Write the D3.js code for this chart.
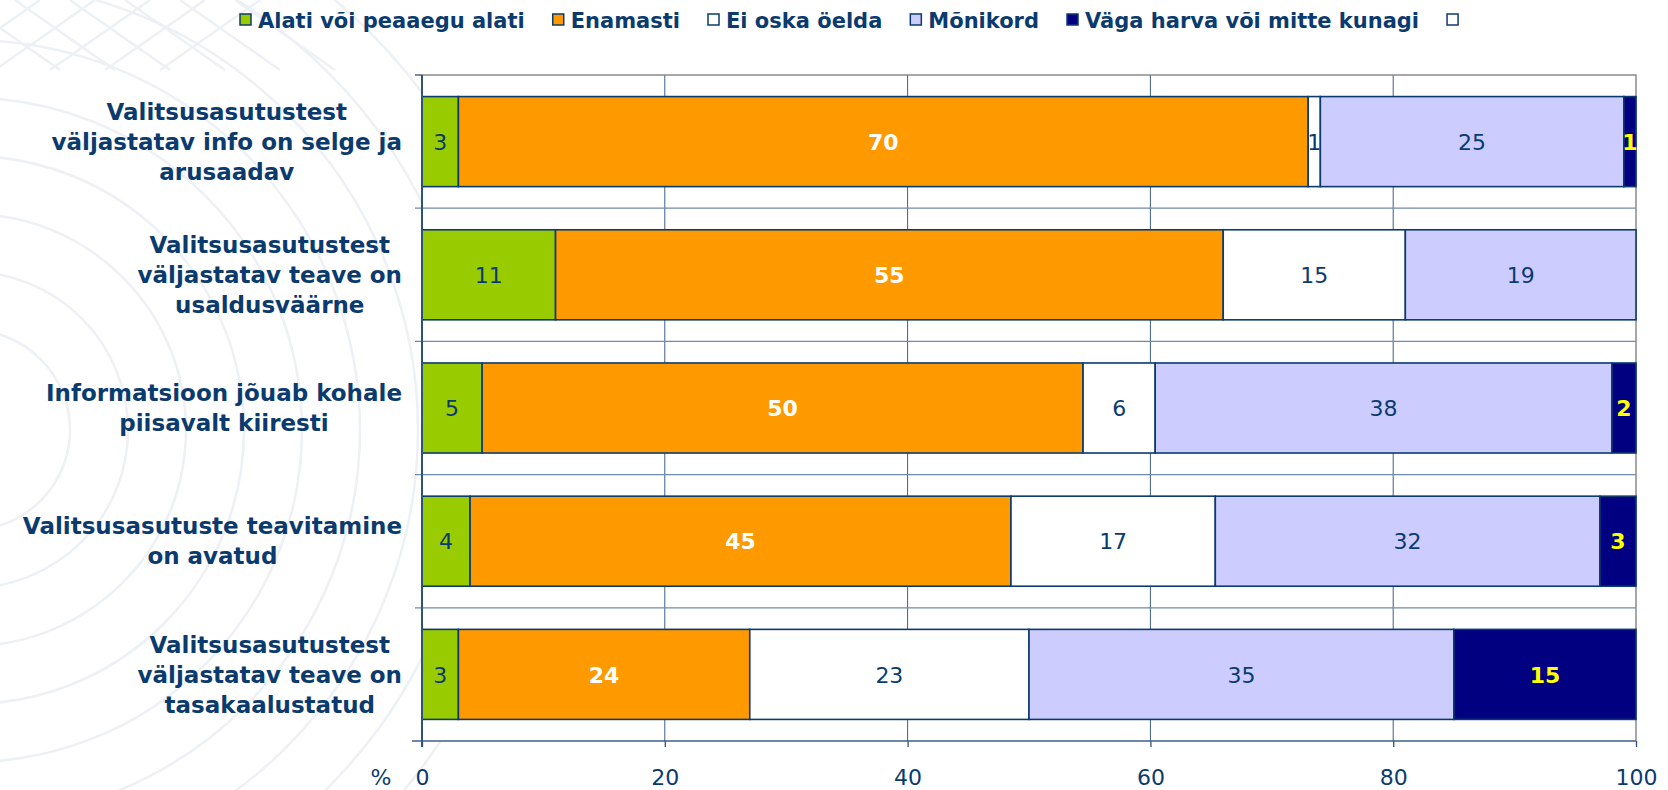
<!DOCTYPE html>
<html>
<head>
<meta charset="utf-8">
<script src="https://cdn.jsdelivr.net/npm/d3@7"></script>
<style>
  body { margin: 0; background: #ffffff; }
  svg  { display: block; }
</style>
</head>
<body>
<svg id="chart" width="1668" height="790"></svg>
<script>
// category labels, one entry per line of the wrapped label
const categories = [
    ["Valitsusasutustest", "väljastatav info on selge ja", "arusaadav"],
    ["Valitsusasutustest", "väljastatav teave on", "usaldusväärne"],
    ["Informatsioon jõuab kohale", "piisavalt kiiresti"],
    ["Valitsusasutuste teavitamine", "on avatud"],
    ["Valitsusasutustest", "väljastatav teave on", "tasakaalustatud"]
];

const seriesNames = ["Alati või peaaegu alati", "Enamasti", "Ei oska öelda", "Mõnikord", "Väga harva või mitte kunagi", ""];

const alati     = [3, 11, 5, 4, 3];
const enamasti  = [70, 55, 50, 45, 24];
const eiOska    = [1, 15, 6, 17, 23];
const monikord  = [25, 19, 38, 32, 35];
const vagaHarva = [1, 0, 2, 3, 15];
const tyhi      = [0, 0, 0, 0, 0];

const xTicks = [0, 20, 40, 60, 80, 100];

const seriesFill  = ["#99cc00", "#ff9900", "#ffffff", "#ccccff", "#000080", "#ffffff"];
const labelColor  = ["#0b3b6e", "#ffffff", "#0b3b6e", "#0b3b6e", "#ffff00", "#0b3b6e"];
const labelWeight = ["normal", "bold", "normal", "normal", "bold", "normal"];

const textColor = "#0b3b6e";

const svg = d3.select("#chart");

const margin = { top: 75, left: 422, right: 1636, bottom: 741 };

// faint background watermark (concentric arcs)
const wm = svg.append("g").attr("fill", "none").attr("stroke", "#edf0f4").attr("stroke-width", 2.5);
d3.range(100, 620, 58).forEach(r =>
{
    wm.append("circle").attr("cx", -30).attr("cy", 430).attr("r", r);
});
d3.range(0, 6).forEach(i =>
{
    wm.append("line")
        .attr("x1", -40 + i * 55).attr("y1", 0)
        .attr("x2", 60 + i * 55).attr("y2", 70);
    wm.append("line")
        .attr("x1", 260 - i * 55).attr("y1", 0)
        .attr("x2", 160 - i * 55).attr("y2", 70);
});

// build the table used by d3.stack
const keys = ["s0", "s1", "s2", "s3", "s4", "s5"];
const columns = [alati, enamasti, eiOska, monikord, vagaHarva, tyhi];
const table = categories.map((c, i) =>
{
    const row = { idx: i };
    keys.forEach((k, j) => row[k] = columns[j][i]);
    return row;
});

const stacked = d3.stack().keys(keys).offset(d3.stackOffsetExpand)(table);

const x = d3.scaleLinear()
    .domain([0, 100])
    .range([margin.left, margin.right]);

const y = d3.scaleBand()
    .domain(d3.range(categories.length))
    .range([margin.top, margin.bottom])
    .paddingInner(0.324)
    .paddingOuter(0.162);

const step = y.step();

// plot area
svg.append("rect")
    .attr("x", margin.left).attr("y", margin.top)
    .attr("width", margin.right - margin.left)
    .attr("height", margin.bottom - margin.top)
    .attr("fill", "#ffffff");

// vertical gridlines
svg.append("g")
    .selectAll("line").data(xTicks.slice(1, -1))
    .enter().append("line")
    .attr("x1", d => x(d)).attr("x2", d => x(d))
    .attr("y1", margin.top).attr("y2", margin.bottom)
    .attr("stroke", "#3d5f86").attr("stroke-width", 1);

// category separator lines
const sepY = d3.range(1, categories.length).map(i => margin.top + i * step);
svg.append("g")
    .selectAll("line").data(sepY)
    .enter().append("line")
    .attr("x1", margin.left - 7).attr("x2", margin.right)
    .attr("y1", d => d).attr("y2", d => d)
    .attr("stroke", "#6f8bab").attr("stroke-width", 1.3);

// top and right border
svg.append("path")
    .attr("d", `M${margin.left},${margin.top}H${margin.right}V${margin.bottom}`)
    .attr("fill", "none").attr("stroke", "#8a8a8a").attr("stroke-width", 1.5);

// bars
const layers = svg.append("g").selectAll("g").data(stacked)
    .enter().append("g")
    .attr("fill", (d, i) => seriesFill[i]);

layers.selectAll("rect").data(d => d.filter(p => p[1] - p[0] > 0))
    .enter().append("rect")
    .attr("x", d => x(d[0] * 100))
    .attr("width", d => x(d[1] * 100) - x(d[0] * 100))
    .attr("y", d => y(d.data.idx))
    .attr("height", y.bandwidth())
    .attr("stroke", "#0b3b6e").attr("stroke-width", 1.6);

// value labels
stacked.forEach((layer, i) =>
{
    svg.append("g").selectAll("text").data(layer.filter(p => p[1] - p[0] > 0))
        .enter().append("text")
        .attr("x", d => (x(d[0] * 100) + x(d[1] * 100)) / 2)
        .attr("y", d => y(d.data.idx) + y.bandwidth() / 2)
        .attr("dy", "0.37em")
        .attr("text-anchor", "middle")
        .attr("font-family", "DejaVu Sans, Verdana, sans-serif")
        .attr("font-size", 22)
        .attr("font-weight", labelWeight[i])
        .attr("fill", labelColor[i])
        .text(d => d.data[layer.key]);
});

// left axis line + ticks
svg.append("line")
    .attr("x1", margin.left).attr("x2", margin.left)
    .attr("y1", margin.top).attr("y2", margin.bottom + 6)
    .attr("stroke", "#2f527a").attr("stroke-width", 2);
svg.append("line")
    .attr("x1", margin.left - 7).attr("x2", margin.left)
    .attr("y1", margin.top).attr("y2", margin.top)
    .attr("stroke", "#2f527a").attr("stroke-width", 1.3);

// bottom axis
const xAxis = d3.axisBottom(x)
    .tickValues(xTicks)
    .tickSize(6)
    .tickPadding(22)
    .tickFormat(d3.format("d"));

const gx = svg.append("g")
    .attr("transform", `translate(0,${margin.bottom})`)
    .call(xAxis);
gx.select(".domain").remove();
gx.selectAll(".tick line").attr("stroke", "#2f527a").attr("stroke-width", 1.3);
gx.selectAll(".tick text")
    .attr("font-family", "DejaVu Sans, Verdana, sans-serif")
    .attr("font-size", 22)
    .attr("fill", textColor);
gx.append("line")
    .attr("x1", margin.left - 10).attr("x2", margin.right)
    .attr("y1", 0).attr("y2", 0)
    .attr("stroke", "#3d5f86").attr("stroke-width", 1.5);

svg.append("text")
    .attr("x", 381).attr("y", 785)
    .attr("text-anchor", "middle")
    .attr("font-family", "DejaVu Sans, Verdana, sans-serif")
    .attr("font-size", 22)
    .attr("fill", textColor)
    .text("%");

// category labels: block right aligned, lines centred inside the block
const lineGap = 30;
categories.forEach((lines, i) =>
{
    const g = svg.append("g");
    const cy = y(i) + y.bandwidth() / 2;
    const texts = lines.map((ln, j) => g.append("text")
        .attr("y", cy + (j - (lines.length - 1) / 2) * lineGap)
        .attr("dy", "0.36em")
        .attr("text-anchor", "middle")
        .attr("font-family", "DejaVu Sans, Verdana, sans-serif")
        .attr("font-size", 23)
        .attr("font-weight", "bold")
        .attr("fill", textColor)
        .text(ln));
    const w = d3.max(texts, t => t.node().getComputedTextLength());
    texts.forEach(t => t.attr("x", 402 - w / 2));
});

// legend
const legend = svg.append("g");
let lx = 240;
seriesNames.forEach((name, i) =>
{
    legend.append("rect")
        .attr("x", lx).attr("y", 14)
        .attr("width", 11).attr("height", 11)
        .attr("fill", seriesFill[i])
        .attr("stroke", "#0b3b6e").attr("stroke-width", 1.5);
    const t = legend.append("text")
        .attr("x", lx + 18).attr("y", 28)
        .attr("font-family", "DejaVu Sans, Verdana, sans-serif")
        .attr("font-size", 21)
        .attr("font-weight", "bold")
        .attr("fill", textColor)
        .text(name);
    lx += 18 + t.node().getComputedTextLength() + 28;
});
</script>
</body>
</html>
